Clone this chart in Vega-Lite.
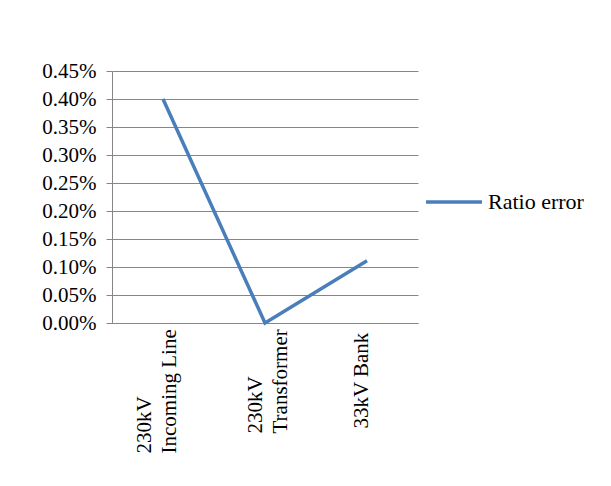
{
  "$schema": "https://vega.github.io/schema/vega-lite/v6.json",
  "width": 306,
  "height": 252,
  "autosize": "none",
  "padding": {"left": 112, "top": 71, "right": 193, "bottom": 163},
  "background": "white",
  "data": {
    "values": [
      {"location": "230kV Incoming Line", "ratio_error": 0.0040, "series": "Ratio error"},
      {"location": "230kV Transformer", "ratio_error": 0.0, "series": "Ratio error"},
      {"location": "33kV Bank", "ratio_error": 0.00111, "series": "Ratio error"}
    ]
  },
  "mark": {"type": "line", "strokeWidth": 3.5},
  "encoding": {
    "x": {
      "field": "location",
      "type": "ordinal",
      "sort": null,
      "scale": {"type": "point", "padding": 0.5},
      "axis": {
        "title": null,
        "domain": true,
        "domainColor": "#868686",
        "domainWidth": 1,
        "ticks": false,
        "tickSize": 0,
        "grid": false,
        "labelAngle": -90,
        "labelAlign": "left",
        "labelBaseline": "middle",
        "labelFont": "Liberation Serif",
        "labelFontSize": 21,
        "labelLineHeight": 25,
        "labelColor": "#000000",
        "labelOverlap": false,
        "labelBound": false,
        "labelExpr": "datum.label == '230kV Incoming Line' ? ['230kV', 'Incoming Line'] : datum.label == '230kV Transformer' ? ['230kV', 'Transformer'] : datum.label",
        "labelPadding": {
          "condition": [
            {"test": "datum.value == '230kV Incoming Line'", "value": 130},
            {"test": "datum.value == '230kV Transformer'", "value": 110}
          ],
          "value": 105
        },
        "labelOffset": {
          "condition": [
            {"test": "datum.value == '230kV Incoming Line'", "value": -19},
            {"test": "datum.value == '230kV Transformer'", "value": -10}
          ],
          "value": -6
        }
      }
    },
    "y": {
      "field": "ratio_error",
      "type": "quantitative",
      "scale": {"domain": [0, 0.0045], "nice": false},
      "axis": {
        "title": null,
        "format": ".2%",
        "values": [0, 0.0005, 0.001, 0.0015, 0.002, 0.0025, 0.003, 0.0035, 0.004, 0.0045],
        "domain": true,
        "domainColor": "#868686",
        "ticks": true,
        "tickColor": "#868686",
        "tickSize": 6,
        "grid": true,
        "gridColor": "#868686",
        "gridWidth": 1,
        "labelPadding": 10,
        "labelFont": "Liberation Serif",
        "labelFontSize": 21,
        "labelColor": "#000000"
      }
    },
    "color": {
      "field": "series",
      "type": "nominal",
      "scale": {"range": ["#4A7EBB"]},
      "legend": {
        "title": null,
        "orient": "none",
        "legendX": 312,
        "legendY": 101,
        "padding": 0,
        "symbolType": "stroke",
        "symbolSize": 3136,
        "symbolStrokeWidth": 3.5,
        "labelFont": "Liberation Serif",
        "labelFontSize": 22,
        "labelColor": "#000000",
        "labelOffset": 4
      }
    }
  },
  "config": {"view": {"stroke": null}, "font": "Liberation Serif"}
}
